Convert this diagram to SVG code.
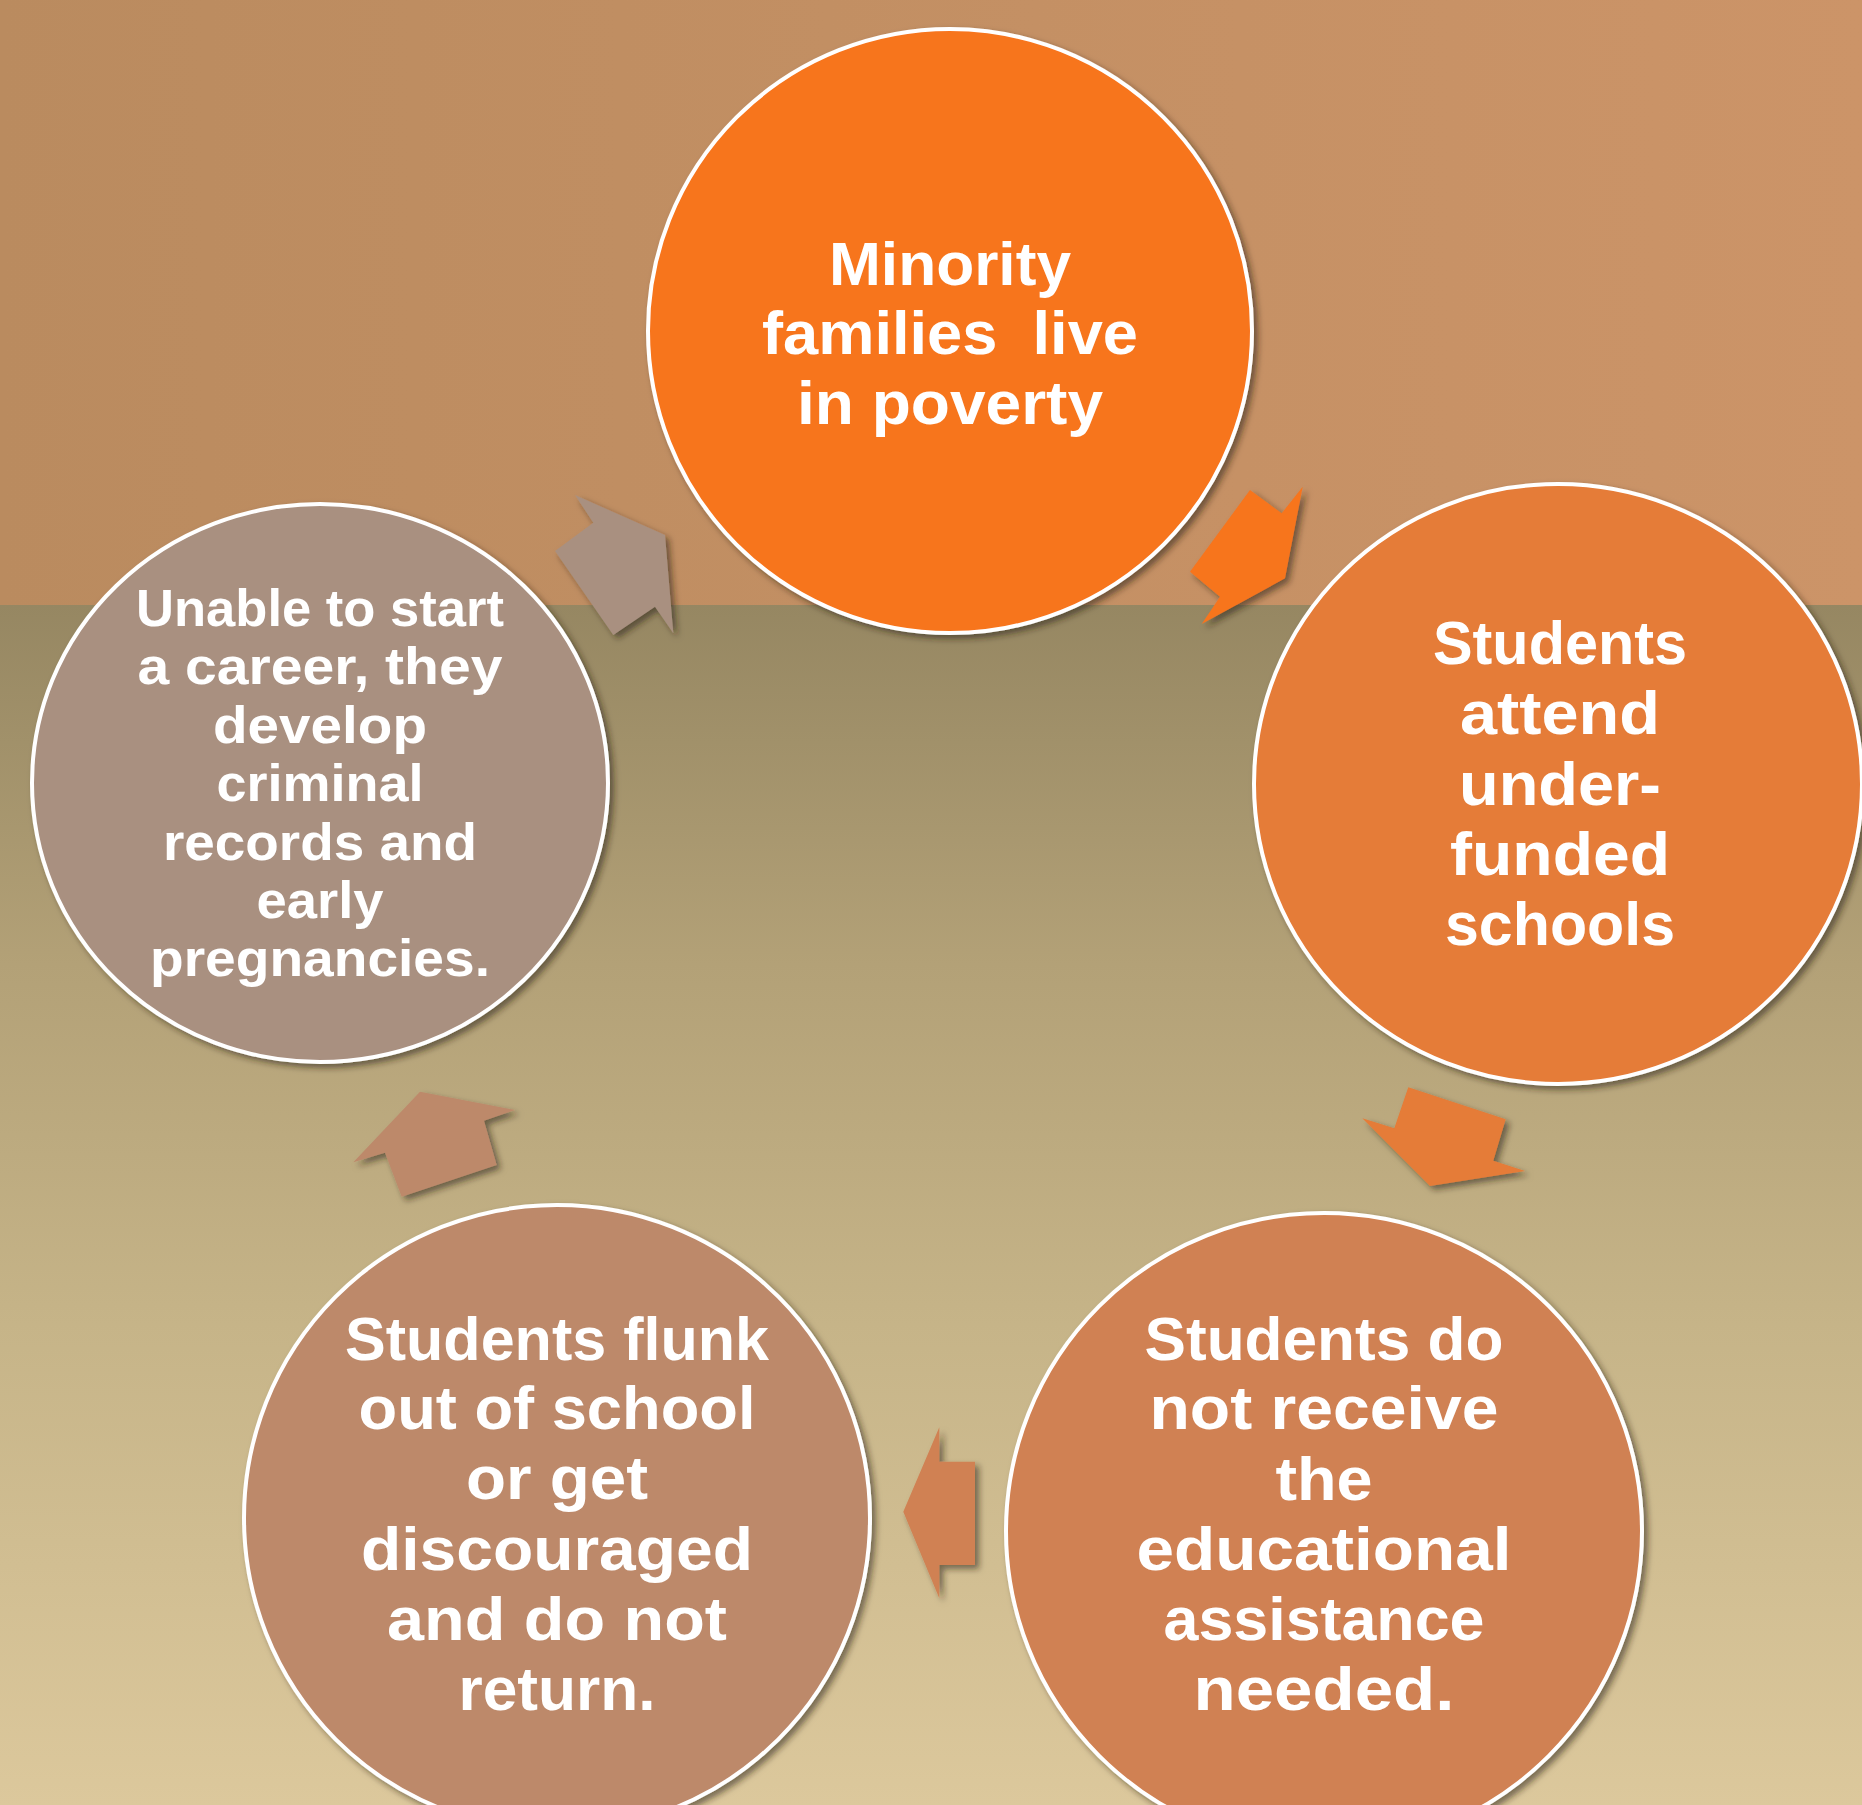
<svg xmlns="http://www.w3.org/2000/svg" width="1862" height="1805" viewBox="0 0 1862 1805">
  <defs>
    <linearGradient id="bgTop" x1="0" y1="0" x2="1" y2="0">
      <stop offset="0" stop-color="#BA8B5F"/>
      <stop offset="1" stop-color="#CC9468"/>
    </linearGradient>
    <linearGradient id="bgBottom" x1="0" y1="0" x2="0" y2="1">
      <stop offset="0" stop-color="#968762"/>
      <stop offset="0.3" stop-color="#B3A177"/>
      <stop offset="0.6" stop-color="#C6B488"/>
      <stop offset="1" stop-color="#DCC89C"/>
    </linearGradient>
    <filter id="shadow" x="-20%" y="-20%" width="140%" height="140%">
      <feDropShadow dx="4" dy="4" stdDeviation="3" flood-color="#2a1e10" flood-opacity="0.55"/>
    </filter>
  </defs>
  <style>
    .node { stroke: #ffffff; stroke-width: 4; filter: url(#shadow); }
    .arrow { filter: url(#shadow); }
    .lbl { font-family: "Liberation Sans", Arial, sans-serif; font-weight: bold; fill: #ffffff; text-anchor: middle; }
    .big { font-size: 61px; }
    .small { font-size: 52px; }
    .c1 { fill: #F7741E; }
    .c2 { fill: #E57B37; }
    .c3 { fill: #D08152; }
    .c4 { fill: #BD896B; }
    .c5 { fill: #A99080; }
  </style>

  <rect x="0" y="0" width="1862" height="605" fill="url(#bgTop)"/>
  <rect x="0" y="605" width="1862" height="1200" fill="url(#bgBottom)"/>

  <g id="connectors">
    <polygon class="arrow c1" points="1250,490 1281.7,513.3 1302.7,486.7 1285,578.3 1201.7,624 1220,596.7 1190,571.7"/>
    <polygon class="arrow c2" points="1408.3,1087.3 1505.7,1119.3 1493.3,1160.7 1525,1171 1430,1186 1362.3,1118.3 1394.3,1128.3"/>
    <polygon class="arrow c3" points="903.3,1511.7 939.3,1427.3 939.3,1461.7 975,1461.7 975,1565 939.3,1565 939.3,1598.3"/>
    <polygon class="arrow c4" points="420,1091.7 515,1110 484,1120.7 496.7,1165 401.7,1196.7 385,1152.7 353.3,1162.3"/>
    <polygon class="arrow c5" points="575,495 593.3,522.7 555,551 613.3,635 655,606.7 673.3,633.3 665,535"/>
  </g>

  <g id="node-poverty">
    <circle class="node c1" cx="950" cy="331" r="302"/>
    <text class="lbl big" x="950" y="285" textLength="242" lengthAdjust="spacingAndGlyphs">Minority</text>
    <text class="lbl big" x="950" y="354" xml:space="preserve" textLength="376" lengthAdjust="spacingAndGlyphs">families  live</text>
    <text class="lbl big" x="950" y="424" textLength="306" lengthAdjust="spacingAndGlyphs">in poverty</text>
  </g>

  <g id="node-schools">
    <ellipse class="node c2" cx="1558" cy="784" rx="304" ry="300"/>
    <text class="lbl big" x="1560" y="664" textLength="254" lengthAdjust="spacingAndGlyphs">Students</text>
    <text class="lbl big" x="1560" y="734" textLength="200" lengthAdjust="spacingAndGlyphs">attend</text>
    <text class="lbl big" x="1560" y="805" textLength="202" lengthAdjust="spacingAndGlyphs">under-</text>
    <text class="lbl big" x="1560" y="875" textLength="220" lengthAdjust="spacingAndGlyphs">funded</text>
    <text class="lbl big" x="1560" y="945" textLength="230" lengthAdjust="spacingAndGlyphs">schools</text>
  </g>

  <g id="node-assistance">
    <circle class="node c3" cx="1324" cy="1531" r="318"/>
    <text class="lbl big" x="1324" y="1360" textLength="359" lengthAdjust="spacingAndGlyphs">Students do</text>
    <text class="lbl big" x="1324" y="1429" textLength="349" lengthAdjust="spacingAndGlyphs">not receive</text>
    <text class="lbl big" x="1324" y="1500" textLength="97" lengthAdjust="spacingAndGlyphs">the</text>
    <text class="lbl big" x="1324" y="1570" textLength="375" lengthAdjust="spacingAndGlyphs">educational</text>
    <text class="lbl big" x="1324" y="1640" textLength="321" lengthAdjust="spacingAndGlyphs">assistance</text>
    <text class="lbl big" x="1324" y="1710" textLength="261" lengthAdjust="spacingAndGlyphs">needed.</text>
  </g>

  <g id="node-flunk">
    <circle class="node c4" cx="557" cy="1518" r="313"/>
    <text class="lbl big" x="557" y="1360" textLength="424" lengthAdjust="spacingAndGlyphs">Students flunk</text>
    <text class="lbl big" x="557" y="1429" textLength="397" lengthAdjust="spacingAndGlyphs">out of school</text>
    <text class="lbl big" x="557" y="1499" textLength="182" lengthAdjust="spacingAndGlyphs">or get</text>
    <text class="lbl big" x="557" y="1570" textLength="392" lengthAdjust="spacingAndGlyphs">discouraged</text>
    <text class="lbl big" x="557" y="1640" textLength="340" lengthAdjust="spacingAndGlyphs">and do not</text>
    <text class="lbl big" x="557" y="1710" textLength="197" lengthAdjust="spacingAndGlyphs">return.</text>
  </g>

  <g id="node-career">
    <ellipse class="node c5" cx="320" cy="783" rx="288" ry="279"/>
    <text class="lbl small" x="320" y="626" textLength="368" lengthAdjust="spacingAndGlyphs">Unable to start</text>
    <text class="lbl small" x="320" y="684" textLength="365" lengthAdjust="spacingAndGlyphs">a career, they</text>
    <text class="lbl small" x="320" y="743" textLength="214" lengthAdjust="spacingAndGlyphs">develop</text>
    <text class="lbl small" x="320" y="801" textLength="207" lengthAdjust="spacingAndGlyphs">criminal</text>
    <text class="lbl small" x="320" y="860" textLength="314" lengthAdjust="spacingAndGlyphs">records and</text>
    <text class="lbl small" x="320" y="918" textLength="127" lengthAdjust="spacingAndGlyphs">early</text>
    <text class="lbl small" x="320" y="976" textLength="340" lengthAdjust="spacingAndGlyphs">pregnancies.</text>
  </g>
</svg>
